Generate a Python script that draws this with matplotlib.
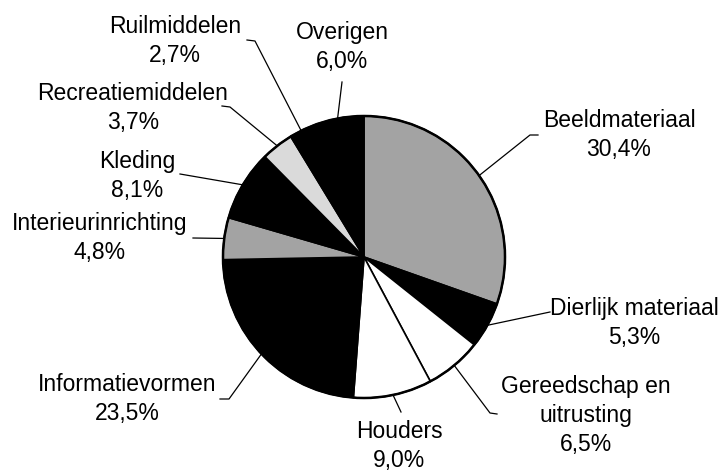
import numpy as np
import matplotlib
matplotlib.use('Agg')
import matplotlib.pyplot as plt
from matplotlib.patches import Circle

# gegevens (met de klok mee vanaf 12 uur)
categories = [
    'Beeldmateriaal', 'Dierlijk materiaal', 'Gereedschap en\nuitrusting',
    'Houders', 'Informatievormen', 'Interieurinrichting', 'Kleding',
    'Recreatiemiddelen', 'Ruilmiddelen', 'Overigen',
]
shares = [30.4, 5.3, 6.5, 9.0, 23.5, 4.8, 8.1, 3.7, 2.7, 6.0]
fills = ['#a3a3a3', '#000000', '#ffffff', '#ffffff', '#000000',
         '#a3a3a3', '#000000', '#dadada', '#000000', '#000000']

# opmaak: tekstpositie (midden x, basislijn eerste regel, px vanaf boven)
# en het begin van de verbindingslijn aan de tekstkant
label_pos = [(619, 127), (634, 315), (586, 393), (399, 438), (127, 391),
             (100, 230), (137, 168), (133, 100), (175, 33), (342, 39)]
leader_start = [
    [(538, 135), (530, 135)],
    [(550, 312)],
    [(497, 414), (490, 413)],
    [(401, 412)],
    [(220, 399), (229, 399)],
    [(193, 238)],
    [(180, 174)],
    [(222, 106), (230, 107)],
    [(247, 40), (255, 41)],
    [(342, 82)],
]

W, H = 726, 473
CX, CY, R = 364, 257, 141
LINE_STEP = 29


def fy(y):
    """pixel vanaf boven -> data y"""
    return H - y


plt.rcParams['font.family'] = ['Liberation Sans', 'DejaVu Sans']

fig = plt.figure(figsize=(W / 100, H / 100), dpi=100)
ax = fig.add_axes([0, 0, 1, 1])

wedges, _ = ax.pie(
    shares,
    colors=fills,
    center=(CX, fy(CY)),
    radius=R,
    startangle=90,
    counterclock=False,
    wedgeprops=dict(edgecolor='black', linewidth=1.2),
)
ax.add_patch(Circle((CX, fy(CY)), R, fill=False, edgecolor='black', linewidth=1.8, zorder=5))

for w, name, share, (tx, ty), pts in zip(wedges, categories, shares, label_pos, leader_start):
    lines = name.split('\n') + [f"{share:.1f}%".replace('.', ',')]
    for i, line in enumerate(lines):
        ax.text(tx, fy(ty + i * LINE_STEP), line, ha='center', va='baseline',
                fontsize=16.5, color='black')
    mid = np.deg2rad((w.theta1 + w.theta2) / 2)
    end = (CX + R * np.cos(mid), fy(CY) + R * np.sin(mid))
    xs = [p[0] for p in pts] + [end[0]]
    ys = [fy(p[1]) for p in pts] + [end[1]]
    ax.plot(xs, ys, color='black', linewidth=0.9)

ax.set_xlim(0, W)
ax.set_ylim(0, H)
ax.set_aspect('equal')
ax.axis('off')

fig.savefig('out.png', dpi=100, facecolor='white')
plt.close(fig)
